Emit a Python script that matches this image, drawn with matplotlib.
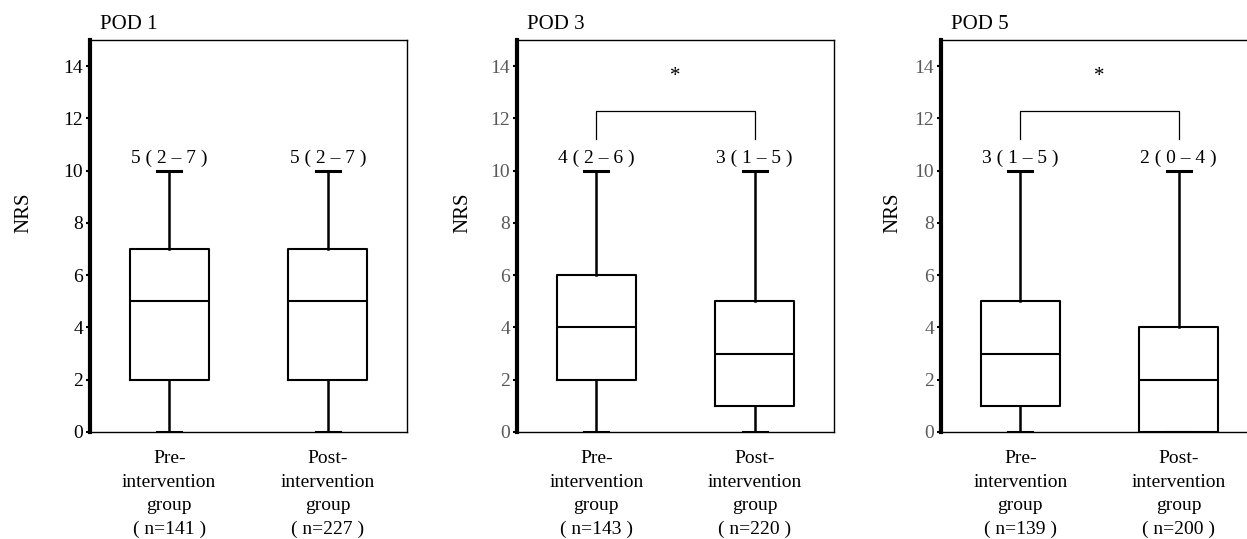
import matplotlib
matplotlib.use("Agg")
import matplotlib.pyplot as plt

plt.rcParams['font.family'] = ['Liberation Serif', 'DejaVu Serif']

# Data
pods = ["POD 1", "POD 3", "POD 5"]
groups = ["Pre-\nintervention\ngroup", "Post-\nintervention\ngroup"]
n_pre = [141, 143, 139]
n_post = [227, 220, 200]

# [pre, post] for each POD
medians = [[5, 5], [4, 3], [3, 2]]
q1s = [[2, 2], [2, 1], [1, 0]]
q3s = [[7, 7], [6, 5], [5, 4]]
whis_lo = [[0, 0], [0, 0], [0, 0]]
whis_hi = [[10, 10], [10, 10], [10, 10]]
significant = [False, True, True]

tick_colors = ["black", "#595959", "#595959"]
ylabel_x = [-0.18, -0.14, -0.122]

fig = plt.figure(figsize=(12.47, 5.39), dpi=100)
W, H = 1247, 539
lefts = [90, 517, 941]
ax_w, ax_top, ax_bot = 317, 40, 432

for i, pod in enumerate(pods):
    ax = fig.add_axes([lefts[i] / W, (H - ax_bot) / H, ax_w / W, (ax_bot - ax_top) / H])

    stats = []
    for j in range(2):
        stats.append({
            "med": medians[i][j], "q1": q1s[i][j], "q3": q3s[i][j],
            "whislo": whis_lo[i][j], "whishi": whis_hi[i][j], "fliers": [],
        })
    ax.bxp(stats, positions=[1, 2], widths=0.5, showfliers=False,
           boxprops=dict(color="black", linewidth=1.5),
           medianprops=dict(color="black", linewidth=1.5),
           whiskerprops=dict(color="black", linewidth=1.8),
           capprops=dict(color="black", linewidth=2.2),
           capwidths=0.15)

    ax.set_xlim(0.5, 2.5)
    ax.set_ylim(0, 15)
    ax.set_yticks([0, 2, 4, 6, 8, 10, 12, 14])
    ax.tick_params(axis='y', direction='out', length=3, width=1.5,
                   labelsize=14, labelcolor=tick_colors[i], pad=2)
    ax.set_xticks([1, 2])
    ax.set_xticklabels([groups[0] + "\n( n=%d )" % n_pre[i],
                        groups[1] + "\n( n=%d )" % n_post[i]],
                       fontsize=14, linespacing=1.5)
    ax.tick_params(axis='x', length=0, pad=13)

    for side in ["top", "right", "bottom"]:
        ax.spines[side].set_linewidth(1.0)
    ax.spines["left"].set_linewidth(3.0)

    ax.set_ylabel("NRS", fontsize=15)
    ax.yaxis.set_label_coords(ylabel_x[i], 0.56)

    ax.text(0.03, 1.015, pod, transform=ax.transAxes, fontsize=15,
            ha='left', va='bottom')

    # median (IQR) labels above the whisker caps
    for j, x in enumerate([1, 2]):
        label = "%d ( %d \u2013 %d )" % (medians[i][j], q1s[i][j], q3s[i][j])
        ax.text(x, whis_hi[i][j] + 0.15, label, fontsize=14,
                ha='center', va='bottom')

    if significant[i]:
        ax.plot([1, 1, 2, 2], [11.2, 12.3, 12.3, 11.2], color="black", linewidth=0.9)
        ax.text(1.5, 13.6, "*", fontsize=15, ha='center', va='center')

fig.savefig("out.png", dpi=100)
